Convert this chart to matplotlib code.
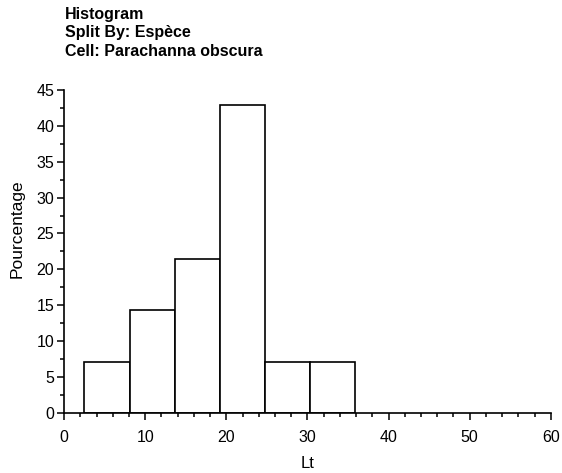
import matplotlib
matplotlib.use("Agg")
import matplotlib.pyplot as plt
from matplotlib.ticker import MultipleLocator

plt.rcParams['font.family'] = ['Liberation Sans', 'DejaVu Sans']

# histogram of Lt, percentage per bin
bin_start = 2.5
bin_width = 5.57
percent = [7.14, 14.29, 21.43, 42.86, 7.14, 7.14]
title_lines = ["Histogram", "Split By: Espèce", "Cell: Parachanna obscura"]

lefts = [bin_start + i * bin_width for i in range(len(percent))]

fig = plt.figure(figsize=(5.62, 4.73), dpi=100)
ax = fig.add_axes([0.114, 0.127, 0.866, 0.683])

ax.bar(lefts, percent, width=bin_width, align='edge',
       facecolor='white', edgecolor='black', linewidth=1.2)

ax.set_xlim(0, 60)
ax.set_ylim(0, 45)
ax.xaxis.set_major_locator(MultipleLocator(10))
ax.xaxis.set_minor_locator(MultipleLocator(2))
ax.yaxis.set_major_locator(MultipleLocator(5))
ax.yaxis.set_minor_locator(MultipleLocator(2.5))
ax.tick_params(which='major', direction='out', length=5, width=1.1, labelsize=11.5)
ax.tick_params(axis='x', which='major', pad=7)
ax.tick_params(axis='y', which='major', pad=2)
ax.tick_params(which='minor', direction='out', length=3, width=1.1)

for s in ['top', 'right']:
    ax.spines[s].set_visible(False)
for s in ['left', 'bottom']:
    ax.spines[s].set_linewidth(1.2)

ax.set_xlabel("Lt", fontsize=12, labelpad=0)
ax.set_ylabel("Pourcentage", fontsize=12.5, labelpad=2)
ax.xaxis.set_label_coords(0.5, -0.133)
ax.yaxis.set_label_coords(-0.081, 0.57)

for i, line in enumerate(title_lines):
    fig.text(65 / 562, 1 - (14 + 19 * i) / 473, line, fontsize=11.5, fontweight='bold',
             ha='left', va='center')

fig.savefig("out.png", dpi=100)
